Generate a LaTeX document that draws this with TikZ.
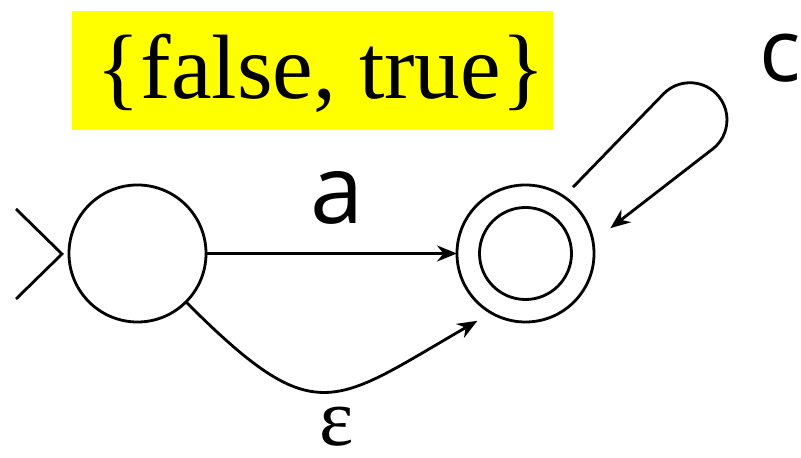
\documentclass[tikz,border=0pt]{standalone}
\usepackage{fontspec}
\setmainfont{Liberation Serif}
\newfontfamily\labelfont{Open Sans}
\newfontfamily\serifface{Liberation Serif}
\usetikzlibrary{arrows.meta}
\definecolor{hilite}{RGB}{255,255,0}

\begin{document}
\begin{tikzpicture}
  [x=0.025cm,y=0.025cm,line width=2pt,>={Stealth[length=0.5cm,width=0.4cm]},
   every node/.style={inner sep=0pt,outer sep=0pt},
   state/.style={circle,draw=black,minimum size=3.425cm},
   sym/.style={font=\labelfont\fontsize{68}{72}\selectfont}]
  \useasboundingbox (0,0) rectangle (801,458);

  % domain of the boolean
  \node[fill=hilite,minimum width=12.025cm,minimum height=2.975cm] (domainbox) at (312.5,387.5) {};
  \node[anchor=base,font=\serifface\fontsize{65}{70}\selectfont] (domain) at (321,359) {\{false, true\}};

  \node[state] (q0) at (137.5,204.5) {};
  \node[state] (q1) at (525.5,204.5) {};
  \node[state,minimum size=2.3cm] (q1in) at (q1) {};

  % start marker
  \coordinate (init) at (62,204);
  \draw (init) ++(-46,45) -- (init) -- ++(-46,-45);

  \draw[->] (q0) -- (q1);
  \node[sym] (lbla) at (337,260) {a};

  % self loop on q1
  \coordinate (loopa) at (663.4,364);
  \draw[->,shorten <=0.33cm,shorten >=0.55cm] (q1.56) -- (loopa)
    arc[start angle=135.9,end angle=-52.2,radius=0.925cm] -- (q1.10);
  \node[sym,font=\labelfont\fontsize{62}{66}\selectfont] (lblc) at (780,400) {c};

  \draw[->,shorten >=0.4cm] (q0.-45) to[out=-45,in=-150,looseness=1.54] (q1.-120);
  \node[font=\serifface\fontsize{58}{64}\selectfont] (lble) at (337,31) {ε};
\end{tikzpicture}
\end{document}
